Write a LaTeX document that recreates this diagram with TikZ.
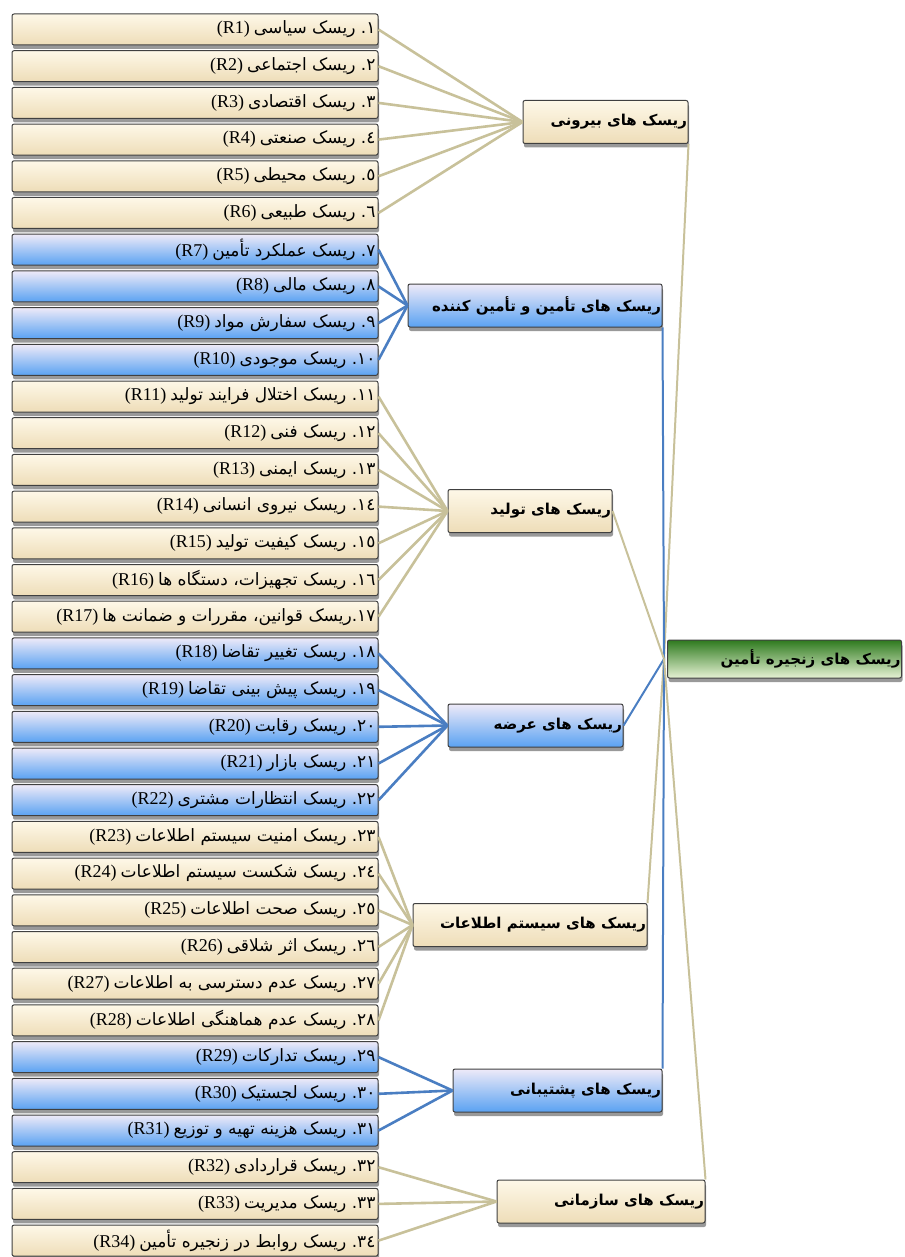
\documentclass[tikz,border=0pt]{standalone}
\usepackage{fontspec}
\setmainfont{Liberation Serif}
\newfontfamily\fa[Script=Arabic]{DejaVu Sans}
\TeXXeTstate=1
\frenchspacing
\usetikzlibrary{shadows}
\definecolor{begT}{HTML}{FEF8E8}
\definecolor{begB}{HTML}{EEDDB8}
\definecolor{bluT}{HTML}{EEEAF8}
\definecolor{bluB}{HTML}{5AA2F2}
\definecolor{grnT}{HTML}{2E7A1E}
\definecolor{grnB}{HTML}{E6F2D4}
\definecolor{lnBeige}{HTML}{C8C19A}
\definecolor{lnBlue}{HTML}{4A7EC2}
\tikzset{
  boxbase/.style={draw=black!75, line width=1pt, rounded corners=2pt, inner sep=0pt,
    drop shadow={shadow xshift=1pt, shadow yshift=-4pt, fill=black, opacity=0.4}},
  leafB/.style={boxbase, top color=begT, bottom color=begB, minimum width=366pt, minimum height=31pt},
  leafU/.style={boxbase, top color=bluT, bottom color=bluB, minimum width=366pt, minimum height=31pt},
  catB/.style={boxbase, top color=begT, bottom color=begB, minimum height=43pt},
  catU/.style={boxbase, top color=bluT, bottom color=bluB, minimum height=43pt},
  rootbox/.style={boxbase, top color=grnT, bottom color=grnB, minimum width=234pt, minimum height=38pt},
  lnB/.style={draw=lnBeige, line width=2.6pt},
  lnU/.style={draw=lnBlue, line width=2.6pt},
  upB/.style={draw=lnBeige, line width=2pt},
  upU/.style={draw=lnBlue, line width=2pt},
}
\newcommand\lt[2]{\makebox[361pt][r]{\fontsize{18}{20}\selectfont(#1)\hspace{4pt}{\fa\fontsize{17}{20}\selectfont #2}}}
\newcommand\ct[2]{\makebox[#1][r]{\fa\bfseries\fontsize{15}{18}\selectfont #2}}
\begin{document}
\begin{tikzpicture}[x=1pt,y=-1pt]
\useasboundingbox (0,0) rectangle (904,1257);
% leaves
\node[leafB] (l1) at (195,29.5) {\lt{R1}{\beginR ١\kern0pt. ریسک سیاسی\endR}};
\node[leafB] (l2) at (195,66.2) {\lt{R2}{\beginR ٢\kern0pt. ریسک اجتماعی\endR}};
\node[leafB] (l3) at (195,102.9) {\lt{R3}{\beginR ٣\kern0pt. ریسک اقتصادی\endR}};
\node[leafB] (l4) at (195,139.6) {\lt{R4}{\beginR ٤\kern0pt. ریسک صنعتی\endR}};
\node[leafB] (l5) at (195,176.3) {\lt{R5}{\beginR ٥\kern0pt. ریسک محیطی\endR}};
\node[leafB] (l6) at (195,213.0) {\lt{R6}{\beginR ٦\kern0pt. ریسک طبیعی\endR}};
\node[leafU] (l7) at (195,249.7) {\lt{R7}{\beginR ٧\kern0pt. ریسک عملکرد تأمین\endR}};
\node[leafU] (l8) at (195,286.4) {\lt{R8}{\beginR ٨\kern0pt. ریسک مالی\endR}};
\node[leafU] (l9) at (195,323.1) {\lt{R9}{\beginR ٩\kern0pt. ریسک سفارش مواد\endR}};
\node[leafU] (l10) at (195,359.8) {\lt{R10}{\beginR ١٠\kern0pt. ریسک موجودی\endR}};
\node[leafB] (l11) at (195,396.5) {\lt{R11}{\beginR ١١\kern0pt. ریسک اختلال فرایند تولید\endR}};
\node[leafB] (l12) at (195,433.2) {\lt{R12}{\beginR ١٢\kern0pt. ریسک فنی\endR}};
\node[leafB] (l13) at (195,469.9) {\lt{R13}{\beginR ١٣\kern0pt. ریسک ایمنی\endR}};
\node[leafB] (l14) at (195,506.6) {\lt{R14}{\beginR ١٤\kern0pt. ریسک نیروی انسانی\endR}};
\node[leafB] (l15) at (195,543.3) {\lt{R15}{\beginR ١٥\kern0pt. ریسک کیفیت تولید\endR}};
\node[leafB] (l16) at (195,580.0) {\lt{R16}{\beginR ١٦\kern0pt. ریسک تجهیزات، دستگاه ها\endR}};
\node[leafB] (l17) at (195,616.7) {\lt{R17}{\beginR ١٧\kern0pt.ریسک قوانین، مقررات و ضمانت ها\endR}};
\node[leafU] (l18) at (195,653.4) {\lt{R18}{\beginR ١٨\kern0pt. ریسک تغییر تقاضا\endR}};
\node[leafU] (l19) at (195,690.1) {\lt{R19}{\beginR ١٩\kern0pt. ریسک پیش بینی تقاضا\endR}};
\node[leafU] (l20) at (195,726.8) {\lt{R20}{\beginR ٢٠\kern0pt. ریسک رقابت\endR}};
\node[leafU] (l21) at (195,763.5) {\lt{R21}{\beginR ٢١\kern0pt. ریسک بازار\endR}};
\node[leafU] (l22) at (195,800.2) {\lt{R22}{\beginR ٢٢\kern0pt. ریسک انتظارات مشتری\endR}};
\node[leafB] (l23) at (195,836.9) {\lt{R23}{\beginR ٢٣\kern0pt. ریسک امنیت سیستم اطلاعات\endR}};
\node[leafB] (l24) at (195,873.6) {\lt{R24}{\beginR ٢٤\kern0pt. ریسک شکست سیستم اطلاعات\endR}};
\node[leafB] (l25) at (195,910.3) {\lt{R25}{\beginR ٢٥\kern0pt. ریسک صحت اطلاعات\endR}};
\node[leafB] (l26) at (195,947.0) {\lt{R26}{\beginR ٢٦\kern0pt. ریسک اثر شلاقی\endR}};
\node[leafB] (l27) at (195,983.7) {\lt{R27}{\beginR ٢٧\kern0pt. ریسک عدم دسترسی به اطلاعات\endR}};
\node[leafB] (l28) at (195,1020.4) {\lt{R28}{\beginR ٢٨\kern0pt. ریسک عدم هماهنگی اطلاعات\endR}};
\node[leafU] (l29) at (195,1057.1) {\lt{R29}{\beginR ٢٩\kern0pt. ریسک تدارکات\endR}};
\node[leafU] (l30) at (195,1093.8) {\lt{R30}{\beginR ٣٠\kern0pt. ریسک لجستیک\endR}};
\node[leafU] (l31) at (195,1130.5) {\lt{R31}{\beginR ٣١\kern0pt. ریسک هزینه تهیه و توزیع\endR}};
\node[leafB] (l32) at (195,1167.2) {\lt{R32}{\beginR ٣٢\kern0pt. ریسک قراردادی\endR}};
\node[leafB] (l33) at (195,1203.9) {\lt{R33}{\beginR ٣٣\kern0pt. ریسک مدیریت\endR}};
\node[leafB] (l34) at (195,1240.6) {\lt{R34}{\beginR ٣٤\kern0pt. ریسک روابط در زنجیره تأمین\endR}};
% categories
\node[catB, minimum width=165pt] (c1) at (605.5,122) {\ct{163pt}{\beginR ریسک های بیرونی\endR}};
\node[catU, minimum width=254pt] (c2) at (535,305.5) {\ct{252pt}{\beginR ریسک های تأمین و تأمین کننده\endR}};
\node[catB, minimum width=164pt] (c3) at (530,511) {\ct{162pt}{\beginR ریسک های تولید\endR}};
\node[catU, minimum width=175pt] (c4) at (535.5,725.5) {\ct{173pt}{\beginR ریسک های عرضه\endR}};
\node[catB, minimum width=234pt] (c5) at (530,925) {\ct{232pt}{\beginR ریسک های سیستم اطلاعات\endR}};
\node[catU, minimum width=209pt] (c6) at (557.5,1090.5) {\ct{207pt}{\beginR ریسک های پشتیبانی\endR}};
\node[catB, minimum width=208pt] (c7) at (601,1201.5) {\ct{206pt}{\beginR ریسک های سازمانی\endR}};
\node[rootbox] (root) at (784.5,659) {\ct{232pt}{\beginR ریسک های زنجیره تأمین\endR}};
% leaf connectors
\foreach \i in {1,...,6} \draw[lnB] (l\i.east) -- (c1.west);
\foreach \i in {7,...,10} \draw[lnU] (l\i.east) -- (c2.west);
\foreach \i in {11,...,17} \draw[lnB] (l\i.east) -- (c3.west);
\foreach \i in {18,...,22} \draw[lnU] (l\i.east) -- (c4.west);
\foreach \i in {23,...,28} \draw[lnB] (l\i.east) -- (c5.west);
\foreach \i in {29,...,31} \draw[lnU] (l\i.east) -- (c6.west);
\foreach \i in {32,...,34} \draw[lnB] (l\i.east) -- (c7.west);
% category to root
\draw[upB] (c1.south east) -- ([xshift=-3pt]root.west);
\draw[upU] (c2.south east) -- ([xshift=-3pt]root.west);
\draw[upB] (c3.east) -- ([xshift=-3pt]root.west);
\draw[upU] (c4.east) -- ([xshift=-3pt]root.west);
\draw[upB] (c5.north east) -- ([xshift=-3pt]root.west);
\draw[upU] (c6.north east) -- ([xshift=-3pt]root.west);
\draw[upB] (c7.north east) -- ([xshift=-3pt]root.west);
\end{tikzpicture}
\end{document}
